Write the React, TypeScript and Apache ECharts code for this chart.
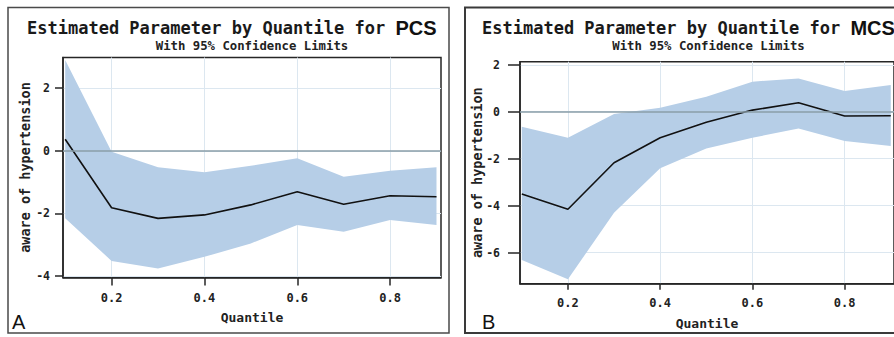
import React, { useEffect, useRef } from "react";
import * as echarts from "echarts";

const quantiles = [0.1, 0.2, 0.3, 0.4, 0.5, 0.6, 0.7, 0.8, 0.9];
const xTicks = [0.2, 0.4, 0.6, 0.8];

const pcsEstimate = [0.37, -1.82, -2.16, -2.05, -1.73, -1.31, -1.71, -1.44, -1.47];
const pcsUpper = [2.9, -0.03, -0.53, -0.69, -0.48, -0.24, -0.83, -0.64, -0.53];
const pcsLower = [-2.16, -3.52, -3.76, -3.39, -2.96, -2.37, -2.59, -2.21, -2.37];
const pcsYTicks = [-4, -2, 0, 2];

const mcsEstimate = [-3.5, -4.15, -2.17, -1.11, -0.45, 0.07, 0.38, -0.18, -0.17];
const mcsUpper = [-0.64, -1.11, -0.1, 0.17, 0.64, 1.28, 1.42, 0.88, 1.14];
const mcsLower = [-6.31, -7.13, -4.3, -2.41, -1.56, -1.11, -0.71, -1.25, -1.46];
const mcsYTicks = [-6, -4, -2, 0, 2];

const titleMain = "Estimated Parameter by Quantile for ";
const titleSub = "With 95% Confidence Limits";
const yName = "aware of hypertension";
const xName = "Quantile";

const MONO = "DejaVu Sans Mono";
const SANS = "Liberation Sans";
const BAND = "#b6cee7";
const FRAME = "#262626";
const GRIDC = "#dce7f0";

function pairs(ys: number[]) {
  return quantiles.map((q, i) => [q, ys[i]]);
}

function xAxisCfg(gridIndex: number, min: number, max: number, tickLen: number, margin: number, nameGap: number) {
  return {
    type: "value",
    gridIndex,
    min,
    max,
    name: xName,
    nameLocation: "middle",
    nameGap,
    nameMoveOverlap: false,
    nameTextStyle: { fontFamily: MONO, fontWeight: "bold", fontSize: 13, color: "#222" },
    axisLine: { show: true, onZero: false, lineStyle: { color: FRAME, width: 1.5 } },
    axisTick: { show: true, customValues: xTicks, length: tickLen, lineStyle: { color: FRAME, width: 1.5 } },
    axisLabel: {
      customValues: xTicks,
      margin,
      fontFamily: MONO,
      fontWeight: "bold",
      fontSize: 12,
      color: "#222",
      formatter: (v: number) => v.toFixed(1),
    },
    splitLine: { show: true, lineStyle: { color: GRIDC, width: 1 } },
  };
}

function yAxisCfg(gridIndex: number, min: number, max: number, ticks: number[], tickLen: number, margin: number, nameGap: number) {
  return {
    type: "value",
    gridIndex,
    min,
    max,
    name: yName,
    nameLocation: "middle",
    nameRotate: 90,
    nameGap,
    nameMoveOverlap: false,
    nameTextStyle: { fontFamily: MONO, fontWeight: "bold", fontSize: 13.5, color: "#222" },
    axisLine: { show: true, onZero: false, lineStyle: { color: FRAME, width: 1.5 } },
    axisTick: { show: true, customValues: ticks, length: tickLen, lineStyle: { color: FRAME, width: 1.5 } },
    axisLabel: {
      customValues: ticks,
      margin,
      fontFamily: MONO,
      fontWeight: "bold",
      fontSize: 11.5,
      color: "#222",
    },
    splitLine: { show: true, lineStyle: { color: GRIDC, width: 1 } },
  };
}

function panelSeries(idx: number, est: number[], upper: number[], lower: number[]) {
  const bandData = quantiles.map((q, i) => [q, lower[i], upper[i]]);
  return [
    {
      type: "custom",
      xAxisIndex: idx,
      yAxisIndex: idx,
      data: bandData,
      encode: { x: 0, y: [1, 2] },
      silent: true,
      z: 1,
      renderItem: (params: any, api: any) => {
        if (params.dataIndex !== 0) return null;
        const top = bandData.map((d) => api.coord([d[0], d[2]]));
        const bottom = bandData.map((d) => api.coord([d[0], d[1]])).reverse();
        return {
          type: "polygon",
          shape: { points: top.concat(bottom) },
          style: { fill: BAND, stroke: "none" },
        };
      },
    },
    {
      type: "line",
      xAxisIndex: idx,
      yAxisIndex: idx,
      data: pairs(est),
      symbol: "none",
      lineStyle: { color: "#111", width: 1.6 },
      z: 3,
      markLine: {
        silent: true,
        symbol: "none",
        label: { show: false },
        lineStyle: { color: "#8a9ea8", width: 1.5, type: "solid" },
        data: [{ yAxis: 0 }],
      },
    },
  ];
}

function titleGraphic(x: number, subCenter: number, boldWord: string) {
  return [
    {
      type: "text",
      left: x,
      top: 18,
      style: {
        text: "{m|" + titleMain + "}{b|" + boldWord + "}",
        rich: {
          m: { fontFamily: MONO, fontWeight: "bold", fontSize: 17, fill: "#1a1a1a" },
          b: { fontFamily: SANS, fontWeight: "bold", fontSize: 20, fill: "#111" },
        },
      },
    },
    {
      type: "text",
      x: subCenter,
      y: 46,
      style: {
        text: titleSub,
        fontFamily: MONO,
        fontWeight: "bold",
        fontSize: 12.3,
        fill: "#222",
        align: "center",
        verticalAlign: "middle",
      },
    },
  ];
}

export default function App() {
  const ref = useRef<HTMLDivElement>(null);
  useEffect(() => {
    if (!ref.current) return;
    const chart = echarts.init(ref.current, undefined, { renderer: "svg" });
    chart.setOption({
      animation: false,
      backgroundColor: "#ffffff",
      grid: [
        { left: 63, top: 57.5, width: 378, height: 220, show: true, borderColor: FRAME, borderWidth: 1.5, backgroundColor: "transparent" },
        { left: 520, top: 61.7, width: 377, height: 222, show: true, borderColor: FRAME, borderWidth: 1.5, backgroundColor: "transparent" },
      ],
      xAxis: [
        xAxisCfg(0, 0.0953, 0.9097, 8, 14, 33),
        xAxisCfg(1, 0.0961, 0.907, 6, 13, 33),
      ],
      yAxis: [
        yAxisCfg(0, -4.05, 2.98, pcsYTicks, 8, 13, 31),
        yAxisCfg(1, -7.32, 2.13, mcsYTicks, 12, 20, 36),
      ],
      series: [
        ...panelSeries(0, pcsEstimate, pcsUpper, pcsLower),
        ...panelSeries(1, mcsEstimate, mcsUpper, mcsLower),
      ],
      graphic: [
        {
          type: "rect",
          shape: { x: 8, y: 7.5, width: 441, height: 325.5 },
          style: { fill: "none", stroke: "#4a4a4a", lineWidth: 1.5 },
          z: 0,
        },
        {
          type: "rect",
          shape: { x: 465, y: 7.5, width: 440, height: 325.5 },
          style: { fill: "none", stroke: "#3a3a3a", lineWidth: 2 },
          z: 0,
        },
        ...titleGraphic(27, 252, "PCS"),
        ...titleGraphic(482, 708.5, "MCS"),
        {
          type: "text",
          left: 12,
          top: 312,
          style: { text: "A", fontFamily: SANS, fontSize: 20, fill: "#111" },
        },
        {
          type: "text",
          left: 482,
          top: 312,
          style: { text: "B", fontFamily: SANS, fontSize: 20, fill: "#111" },
        },
      ],
    });
    return () => chart.dispose();
  }, []);
  return (
    <div
      ref={ref}
      style={{ position: "absolute", left: 0, top: 0, width: 894, height: 337 }}
    />
  );
}
